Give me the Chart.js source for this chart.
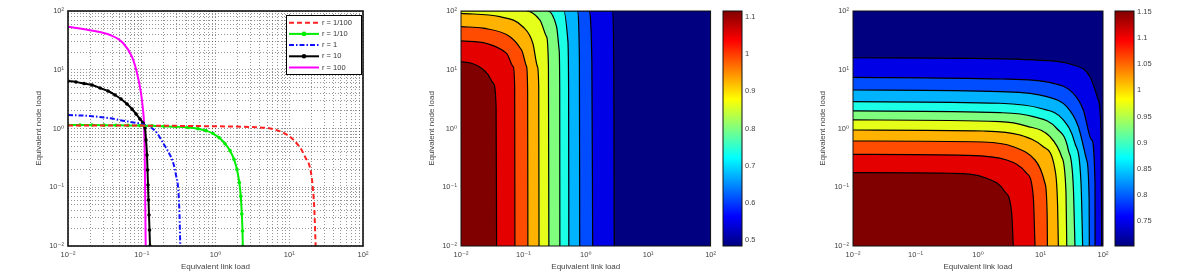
<!DOCTYPE html>
<html>

<head>
    <title>Equivalent load</title>
    <script src="https://cdn.jsdelivr.net/npm/chart.js"></script>
    <style>
        body {
            margin: 0;
            background: #fff;
        }

        .panel {
            position: absolute;
            top: 0;
            height: 278px;
        }
    </style>
</head>

<body>
    <div class="panel" style="left:0;width:400px"><canvas id="linesChart"></canvas></div>
    <div class="panel" style="left:400px;width:320px"><canvas id="midChart"></canvas></div>
    <div class="panel" style="left:720px;width:60px"><canvas id="midBar"></canvas></div>
    <div class="panel" style="left:800px;width:320px"><canvas id="rightChart"></canvas></div>
    <div class="panel" style="left:1112px;width:60px"><canvas id="rightBar"></canvas></div>

    <script>
        // axis ticks shared by all three plots
        const tickPowers = [0.01, 0.1, 1, 10, 100];
        const tickLabels = ['10⁻²', '10⁻¹', '10⁰', '10¹', '10²'];

        // left plot: one curve per r value, [link load, node load]
        const rLabels = ['r = 1/100', 'r = 1/10', 'r = 1', 'r = 10', 'r = 100'];
        const r1_100 = [[0.01, 1.13], [0.1, 1.12], [1.0, 1.09], [2.94, 1.06], [6.76, 0.94], [11.4, 0.64],
            [16.4, 0.33], [20.1, 0.15], [21.9, 0.041], [22.8, 0.01]];
        const r1_10 = [[0.01, 1.15], [0.01455, 1.15], [0.02116, 1.145], [0.03077, 1.14], [0.04475, 1.135],
            [0.0651, 1.13], [0.0947, 1.12], [0.1377, 1.11], [0.2003, 1.09], [0.2913, 1.07], [0.4238, 1.04],
            [0.579, 0.99], [0.743, 0.92], [0.925, 0.82], [1.116, 0.70], [1.345, 0.55], [1.573, 0.42],
            [1.781, 0.30], [1.956, 0.20], [2.102, 0.12], [2.203, 0.07], [2.273, 0.035], [2.323, 0.018], [2.345, 0.01]];
        const r1 = [[0.01, 1.70], [0.0199, 1.63], [0.0371, 1.49], [0.0593, 1.34], [0.0862, 1.24], [0.1107, 1.147],
            [0.1294, 1.07], [0.161, 0.838], [0.196, 0.56], [0.234, 0.383], [0.268, 0.256], [0.291, 0.162],
            [0.313, 0.090], [0.325, 0.034], [0.333, 0.01]];
        const r10 = [[0.01, 6.43], [0.01284, 6.19], [0.01648, 5.83], [0.02116, 5.50], [0.02716, 4.89],
            [0.03486, 4.35], [0.04338, 3.72], [0.05231, 3.18], [0.0631, 2.61], [0.0738, 2.15], [0.0836, 1.77],
            [0.0947, 1.45], [0.104, 1.24], [0.1107, 1.02], [0.1142, 0.637], [0.1179, 0.354], [0.1197, 0.197],
            [0.1215, 0.109], [0.1235, 0.0607], [0.1254, 0.0337], [0.1274, 0.0187], [0.1294, 0.01]];
        const r100 = [[0.01, 54], [0.0218, 46], [0.0371, 39], [0.0557, 28.5], [0.0738, 16.5], [0.0862, 8.8],
            [0.0977, 4.0], [0.104, 2.07], [0.1073, 1.24], [0.1096, 0.43], [0.1114, 0.061], [0.1131, 0.01]];

        // middle plot: contour levels and contour lines (lowest level first)
        const midLevels = [0.485, 0.548, 0.611, 0.674, 0.737, 0.8, 0.863, 0.926, 0.989, 1.052, 1.115];
        const midContours = [
            [[0.01, 100], [2.65, 100], [2.81, 14.7], [2.86, 0.01]],
            [[0.01, 100], [1.12, 100], [1.25, 14.7], [1.29, 0.01]],
            [[0.01, 100], [0.73, 100], [0.79, 14.7], [0.80, 0.01]],
            [[0.01, 100], [0.445, 100], [0.515, 32], [0.53, 5], [0.535, 0.01]],
            [[0.01, 100], [0.247, 100], [0.34, 54], [0.374, 21.7], [0.382, 5], [0.384, 0.01]],
            [[0.01, 100], [0.11, 100], [0.184, 70], [0.235, 36.5], [0.252, 11.3], [0.256, 0.01]],
            [[0.01, 91], [0.042, 80], [0.098, 54], [0.142, 28], [0.168, 11.3], [0.176, 5.1], [0.178, 0.01]],
            [[0.01, 54], [0.0227, 51], [0.061, 36.5], [0.0935, 21.7], [0.1125, 11.3], [0.117, 4], [0.118, 0.01]],
            [[0.01, 31], [0.0258, 28], [0.0538, 19], [0.0687, 11.3], [0.0725, 5.1], [0.0731, 0.01]],
            [[0.01, 13.7], [0.0148, 12.9], [0.0214, 10.6], [0.0273, 8.2], [0.0329, 5.9], [0.0365, 2.4], [0.0372, 0.01]]
        ];
        const midBarTicks = [0.5, 0.6, 0.7, 0.8, 0.9, 1, 1.1];

        // right plot
        const rightLevels = [0.702, 0.747, 0.792, 0.837, 0.882, 0.927, 0.972, 1.017, 1.062, 1.107, 1.152];
        const rightContours = [
            [[0.01, 16.0], [1.0, 15.6], [7.67, 14.7], [33.5, 12.05], [61.9, 7.62], [84.1, 3.05], [92.9, 0.84], [95.3, 0.01]],
            [[0.01, 7.43], [2.25, 6.96], [16.0, 5.88], [33.5, 3.97], [48.4, 2.07], [65.9, 0.64], [74.5, 0.118], [74.6, 0.01]],
            [[0.01, 4.52], [2.25, 4.23], [12.6, 3.48], [26.3, 2.35], [40.3, 1.07], [54.8, 0.291], [60.0, 0.06], [60.4, 0.01]],
            [[0.01, 2.86], [2.25, 2.69], [9.82, 2.21], [23.2, 1.40], [35.6, 0.56], [44.5, 0.118], [47.3, 0.01]],
            [[0.01, 1.99], [2.25, 1.86], [7.67, 1.59], [18.2, 1.0], [27.9, 0.43], [33.5, 0.102], [35.6, 0.01]],
            [[0.01, 1.40], [2.25, 1.31], [6.01, 1.10], [14.2, 0.725], [21.8, 0.331], [25.6, 0.080], [26.3, 0.01]],
            [[0.01, 0.942], [1.216, 0.906], [4.70, 0.774], [11.1, 0.49], [17.1, 0.197], [18.8, 0.047], [19.3, 0.01]],
            [[0.01, 0.613], [1.216, 0.589], [3.67, 0.49], [8.17, 0.291], [11.8, 0.117], [12.8, 0.0315], [12.9, 0.01]],
            [[0.01, 0.363], [0.659, 0.350], [2.88, 0.291], [6.01, 0.173], [7.67, 0.069], [8.17, 0.01]],
            [[0.01, 0.177], [0.356, 0.173], [1.377, 0.142], [2.70, 0.084], [3.46, 0.036], [3.67, 0.01]]
        ];
        const rightBarTicks = [0.75, 0.8, 0.85, 0.9, 0.95, 1, 1.05, 1.1, 1.15];

        const FONT = '"Liberation Sans", "DejaVu Sans", Arial, sans-serif';
        Chart.defaults.font.family = FONT;
        Chart.defaults.font.size = 7.5;
        Chart.defaults.color = '#444';
        Chart.defaults.animation = false;
        Chart.defaults.events = [];

        // minor log ticks 1..9 per decade, for the dotted grid
        const logTicks = [];
        tickPowers.slice(0, -1).forEach(d => {
            for (let m = 1; m <= 9; m++) logTicks.push(+(m * d).toPrecision(3));
        });
        logTicks.push(tickPowers[tickPowers.length - 1]);

        function powerLabel(v) {
            const i = tickPowers.findIndex(p => Math.abs(p - v) < p * 1e-6);
            return i < 0 ? '' : tickLabels[i];
        }

        function jet(t) {
            const c = v => Math.round(255 * Math.min(1, Math.max(0, v)));
            return `rgb(${c(1.5 - Math.abs(4 * t - 3))},${c(1.5 - Math.abs(4 * t - 2))},${c(1.5 - Math.abs(4 * t - 1))})`;
        }

        function logAxis(title, size, titlePad, withGrid) {
            return {
                type: 'logarithmic',
                min: 0.01,
                max: 100,
                afterBuildTicks: s => { s.ticks = logTicks.map(v => ({ value: v })); },
                afterFit: s => { if (s.isHorizontal()) s.height = size; else s.width = size; },
                ticks: { autoSkip: false, maxRotation: 0, padding: 4, callback: v => powerLabel(v) },
                grid: withGrid ? { color: 'rgba(0,0,0,0.42)', lineWidth: 1, drawTicks: false } : { display: false, drawTicks: false },
                border: { display: false, dash: [1, 2] },
                title: { display: true, text: title, color: '#444', font: { size: 8 }, padding: titlePad }
            };
        }

        function framePlugin(width) {
            return {
                id: 'frame',
                afterDraw(chart) {
                    const { ctx, chartArea: a } = chart;
                    ctx.save();
                    ctx.strokeStyle = '#111';
                    ctx.lineWidth = width;
                    ctx.strokeRect(a.left, a.top, a.width, a.height);
                    ctx.restore();
                }
            };
        }

        const boxLegend = {
            id: 'boxLegend',
            afterDraw(chart) {
                const { ctx, chartArea: a } = chart;
                const w = 75, h = 59, x0 = a.right - w - 2, y0 = a.top + 4;
                ctx.save();
                ctx.fillStyle = '#fff';
                ctx.fillRect(x0, y0, w, h);
                ctx.strokeStyle = '#000';
                ctx.lineWidth = 1;
                ctx.strokeRect(x0 + 0.5, y0 + 0.5, w, h);
                chart.data.datasets.forEach((ds, i) => {
                    const y = y0 + 7.7 + i * 11.2;
                    ctx.strokeStyle = ds.borderColor;
                    ctx.lineWidth = ds.borderWidth;
                    ctx.setLineDash(ds.borderDash || []);
                    ctx.beginPath();
                    ctx.moveTo(x0 + 3, y);
                    ctx.lineTo(x0 + 33, y);
                    ctx.stroke();
                    ctx.setLineDash([]);
                    if (ds.pointRadius) {
                        ctx.fillStyle = ds.borderColor;
                        ctx.beginPath();
                        ctx.arc(x0 + 18, y, ds.pointRadius + 0.5, 0, 2 * Math.PI);
                        ctx.fill();
                    }
                    ctx.fillStyle = '#333';
                    ctx.font = '7.5px ' + FONT;
                    ctx.textBaseline = 'middle';
                    ctx.fillText(ds.label, x0 + 36, y);
                });
                ctx.restore();
            }
        };

        // ---- left: curves
        const curveData = [r1_100, r1_10, r1, r10, r100];
        const curveStyle = [
            { color: '#ff2020', dash: [5, 3], radius: 0 },
            { color: '#00ee00', dash: [], radius: 1.8 },
            { color: '#1010ff', dash: [5, 2, 1.5, 2], radius: 0 },
            { color: '#000000', dash: [], radius: 1.8 },
            { color: '#ff00ff', dash: [], radius: 0 }
        ];

        new Chart(document.getElementById('linesChart'), {
            type: 'line',
            data: {
                datasets: curveData.map((pts, i) => ({
                    label: rLabels[i],
                    data: pts.map(([x, y]) => ({ x, y })),
                    borderColor: curveStyle[i].color,
                    backgroundColor: curveStyle[i].color,
                    borderDash: curveStyle[i].dash,
                    borderWidth: 2,
                    pointRadius: curveStyle[i].radius,
                    pointBorderWidth: 0,
                    cubicInterpolationMode: 'monotone',
                    fill: false
                }))
            },
            options: {
                responsive: true,
                maintainAspectRatio: false,
                layout: { padding: { left: 0, top: 11, right: 37, bottom: 0 } },
                plugins: { legend: { display: false }, tooltip: { enabled: false } },
                scales: {
                    x: logAxis('Equivalent link load', 32, { top: 0, bottom: 6.5 }, true),
                    y: logAxis('Equivalent node load', 68, { top: 34, bottom: 0 }, true)
                }
            },
            plugins: [framePlugin(1.6), boxLegend]
        });

        // ---- contour plots
        function contourChart(id, levels, contours, yWidth, yTitlePad, rightPad) {
            const lo = levels[0], hi = levels[levels.length - 1];
            const bandColor = v => jet((v - lo) / (hi - lo));
            return new Chart(document.getElementById(id), {
                type: 'line',
                data: {
                    datasets: contours.map((pts, k) => ({
                        data: pts.map(([x, y]) => ({ x, y })),
                        backgroundColor: bandColor(levels[k + 1]),
                        borderColor: '#000',
                        borderWidth: 1.2,
                        pointRadius: 0,
                        fill: 'start',
                        cubicInterpolationMode: 'monotone',
                        order: contours.length - k
                    }))
                },
                options: {
                    responsive: true,
                    maintainAspectRatio: false,
                    layout: { padding: { left: 0, top: 11, right: rightPad, bottom: 0 } },
                    plugins: { legend: { display: false }, tooltip: { enabled: false } },
                    scales: {
                        x: logAxis('Equivalent link load', 32, { top: 0, bottom: 6.5 }, false),
                        y: logAxis('Equivalent node load', yWidth, { top: yTitlePad, bottom: 0 }, false)
                    }
                },
                plugins: [{
                    id: 'areaBg',
                    beforeDatasetsDraw(chart) {
                        const { ctx, chartArea: a } = chart;
                        ctx.save();
                        ctx.fillStyle = bandColor(lo);
                        ctx.fillRect(a.left, a.top, a.width, a.height);
                        ctx.restore();
                    }
                }, framePlugin(1)]
            });
        }

        function colorBar(id, levels, tickVals) {
            const lo = levels[0], hi = levels[levels.length - 1];
            return new Chart(document.getElementById(id), {
                type: 'bar',
                data: {
                    labels: [''],
                    datasets: [{
                        data: [[lo, hi]],
                        backgroundColor: c => {
                            const a = c.chart.chartArea;
                            if (!a) return 'transparent';
                            const g = c.chart.ctx.createLinearGradient(0, a.bottom, 0, a.top);
                            [0, 0.125, 0.375, 0.625, 0.875, 1].forEach(t => g.addColorStop(t, jet(t)));
                            return g;
                        },
                        borderWidth: 0,
                        barPercentage: 1,
                        categoryPercentage: 1
                    }]
                },
                options: {
                    responsive: true,
                    maintainAspectRatio: false,
                    layout: { padding: { left: 3, top: 11, right: 0, bottom: 32 } },
                    plugins: { legend: { display: false }, tooltip: { enabled: false } },
                    scales: {
                        x: { display: false },
                        y: {
                            position: 'right',
                            min: lo,
                            max: hi,
                            afterBuildTicks: s => { s.ticks = tickVals.map(v => ({ value: v })); },
                            afterFit: s => { s.width = 38; },
                            grid: { display: false, drawTicks: false },
                            border: { display: false },
                            ticks: { padding: 3, callback: v => String(v) }
                        }
                    }
                },
                plugins: [framePlugin(1)]
            });
        }

        contourChart('midChart', midLevels, midContours, 61, 27, 9);
        colorBar('midBar', midLevels, midBarTicks);
        contourChart('rightChart', rightLevels, rightContours, 53, 18, 17);
        colorBar('rightBar', rightLevels, rightBarTicks);
    </script>
</body>

</html>
